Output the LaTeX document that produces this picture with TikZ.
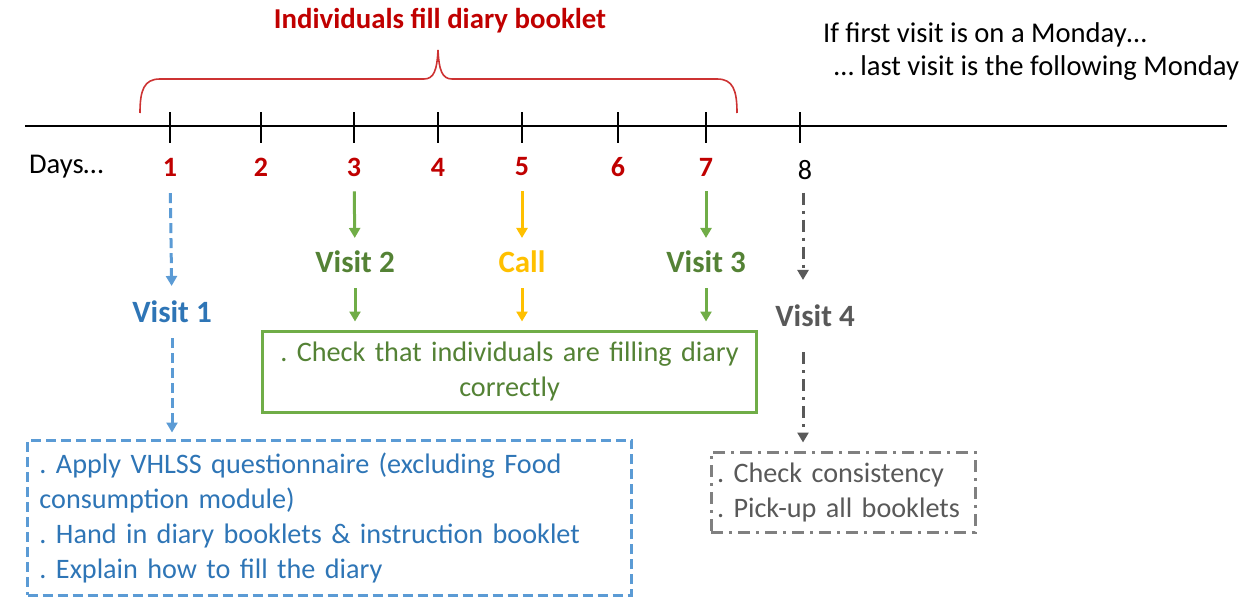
\documentclass[tikz,border=0pt]{standalone}
\usepackage{fontspec}
\setmainfont{Carlito}
\usetikzlibrary{arrows.meta}

\definecolor{dayred}{HTML}{C00000}
\definecolor{vblue}{HTML}{2E75B6}
\definecolor{dblue}{HTML}{5B9BD5}
\definecolor{vgreen}{HTML}{548235}
\definecolor{lgreen}{HTML}{70AD47}
\definecolor{corange}{HTML}{FFC000}
\definecolor{vgray}{HTML}{595959}
\definecolor{lgray}{HTML}{808080}
\frenchspacing

\begin{document}
\begin{tikzpicture}[x=0.5pt,y=-0.5pt,
	daynum/.style={font=\fontsize{14}{16}\selectfont\bfseries,text=dayred},
	plain/.style={font=\fontsize{14.3}{17}\selectfont},
	vlabel/.style={font=\fontsize{15.5}{18}\selectfont\bfseries},
	body/.style={font=\fontsize{14.1}{17.5}\selectfont},
	tip/.style={-{Triangle[length=5pt,width=5.5pt]},line width=1.5pt},
	dashblue/.style={draw=dblue,line width=1.5pt,dash pattern=on 5pt off 2.5pt},
	dashgray/.style={draw=lgray,line width=1.5pt,dash pattern=on 6pt off 3pt on 1.5pt off 3pt}]
	\useasboundingbox (0,0) rectangle (1253,605);

	% time line
	\draw[line width=0.6pt] (25,126) -- (1227,126);
	\foreach \x in {170,261,354,438,522,618,706,800}
		\draw[line width=0.6pt] (\x,112) -- (\x,143);

	\node[plain,anchor=west] (days) at (22,167) {Days\ldots};
	\foreach \x/\n in {170/1,261/2,354/3,438/4,522/5,618/6,706/7}
		\node[daynum] (d\n) at (\x,167) {\n};
	\node[plain,font=\fontsize{14}{16}\selectfont] (d8) at (805,170) {8};

	% brace
	\draw[dayred!80,line width=0.8pt] (140,113) .. controls (140,90) and (144,79) .. (160,79) -- (424,79)
		.. controls (434,79) and (437,70) .. (438,50) .. controls (439,70) and (442,79) .. (452,79) -- (717,79)
		.. controls (733,79) and (737,90) .. (737,113);
	\node[font=\fontsize{14.4}{17}\selectfont\bfseries,text=dayred] (fill) at (440,21) {Individuals fill diary booklet};

	\node[plain,anchor=west] (mon1) at (816,35) {If first visit is on a Monday\ldots};
	\node[plain,anchor=west] (mon2) at (827,68) {\ldots\ last visit is the following Monday};

	% visit labels
	\node[vlabel,text=vblue] (v1) at (172,312) {Visit 1};
	\node[vlabel,text=vgreen] (v2) at (355,262) {Visit 2};
	\node[vlabel,text=corange] (call) at (522,262) {Call};
	\node[vlabel,text=vgreen] (v3) at (706,262) {Visit 3};
	\node[vlabel,text=vgray] (v4) at (815,316) {Visit 4};

	% boxes
	\node[body,dashblue,text=vblue,text width=290pt,inner xsep=6pt,minimum height=77.5pt,align=left] (apply) at (329.5,517.5)
		{. Apply VHLSS questionnaire (excluding Food\\ consumption module)\\
		. Hand in diary booklets \& instruction booklet\\
		. Explain how to fill the diary};
	\node[body,draw=lgreen,line width=1.5pt,text=vgreen,text width=240pt,minimum height=40.5pt,align=center] (check) at (509.5,371.5)
		{. Check that individuals are filling diary\\ correctly};
	\node[body,dashgray,text=vgray,text width=126pt,inner xsep=3pt,minimum height=40pt,align=left] (cons) at (843,492)
		{. Check consistency\\. Pick-up all booklets};

	% arrows
	\draw[tip,dashblue,shorten <=5pt,shorten >=4pt] (d1) -- (v1);
	\draw[tip,dashblue,shorten <=4pt,shorten >=3pt] (v1) -- (v1 |- apply.north);
	\draw[tip,draw=lgreen,fill=lgreen,shorten <=4pt,shorten >=3pt] (d3) -- (v2);
	\draw[tip,draw=lgreen,fill=lgreen,shorten <=4pt,shorten >=4pt] (v2) -- (v2 |- check.north);
	\draw[tip,draw=corange,fill=corange,shorten <=4pt,shorten >=3pt] (d5) -- (call);
	\draw[tip,draw=corange,fill=corange,shorten <=4pt,shorten >=4pt] (call) -- (call |- check.north);
	\draw[tip,draw=lgreen,fill=lgreen,shorten <=4pt,shorten >=3pt] (d7) -- (v3);
	\draw[tip,draw=lgreen,fill=lgreen,shorten <=4pt,shorten >=4pt] (v3) -- (v3 |- check.north);
	\draw[tip,dashgray,draw=vgray,shorten <=3pt,shorten >=9pt] ([xshift=-1pt]d8.south) -- ([xshift=-1pt]d8 |- v4.north);
	\draw[tip,dashgray,draw=vgray,shorten <=9pt,shorten >=4pt] ([xshift=-1pt]d8 |- v4.south) -- ([xshift=-1pt]d8 |- cons.north);
\end{tikzpicture}
\end{document}
